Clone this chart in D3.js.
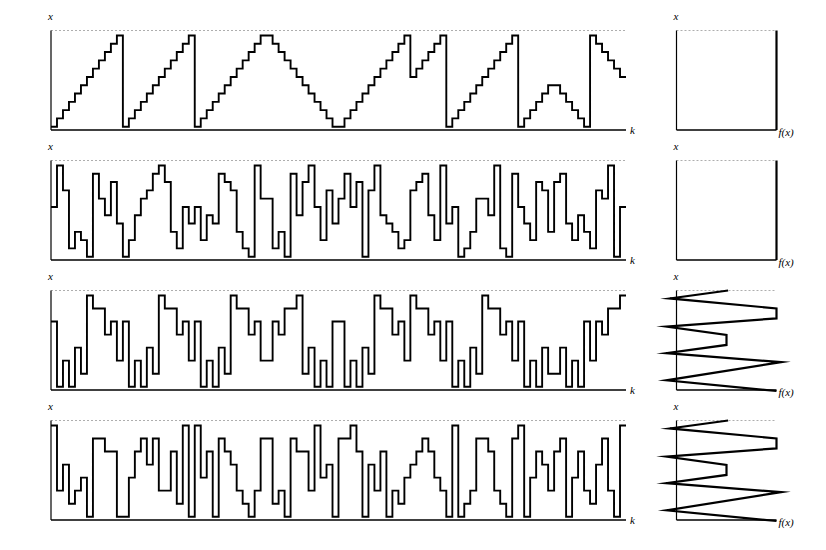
<!DOCTYPE html>
<html><head><meta charset="utf-8">
<script src="https://cdn.jsdelivr.net/npm/d3@7"></script>
<style>html,body{margin:0;padding:0;background:#fff;} svg{display:block;}</style>
</head><body>
<svg id="chart" width="826" height="550"></svg>
<script>
// ---- data ----
const steps = 96;
const levelCounts = [12, 12, 8, 8];
const series1 = [0,1,2,3,4,5,6,7,8,9,10,11, 0,1,2,3,4,5,6,7,8,9,10,11, 0,1,2,3,4,5,6,7,8,9,10,11, 11,10,9,8,7,6,5,4,3,2,1,0, 0,1,2,3,4,5,6,7,8,9,10,11, 6,7,8,9,10,11, 0,1,2,3,4,5,6,7,8,9,10,11, 0,1,2,3,4,5,5,4,3,2,1,0, 11,10,9,8,7,6];
const series2 = [6,11,8,1,3,2,0,10,7,5,9,4, 0,2,5,7,8,10,11,9,3,1,6,4, 6,2,5,4,10,9,8,3,1,0,11,7, 7,1,3,0,10,5,9,11,6,2,8,4, 7,10,6,9,0,8,11,5,4,3,1,2, 8,9,10,5,2,11,4,6,0,1,3,7, 7,5,11,1,0,10,6,4,2,9,8,3, 9,10,4,2,5,3,1,8,7,11,0,6];
const series3 = [5,0,2,0,3,1,7,6,6,4,5,2, 5,0,2,0,3,1,7,6,6,4,5,2, 5,0,2,0,3,1,7,6,6,4,5,2, 2,5,4,6,6,7,1,3,0,2,0,5, 5,0,2,0,3,1,7,6,6,4,5,2, 7,6,6,4,5,2,5,0,2,0,3,1, 7,6,6,4,5,2,5,0,2,0,3,1, 1,3,0,2,0,5,2,5,4,6,6,7];
const series4 = [7,2,4,1,2,3,0,6,6,5,5,0, 0,3,5,6,4,6,2,2,5,1,7,0, 7,3,5,0,6,5,4,2,1,0,2,6, 6,1,2,0,6,5,5,2,7,3,4,0, 6,6,7,5,0,4,2,5,0,2,1,3, 4,5,6,5,3,2,0,7,0,1,2,6, 6,5,2,1,0,6,7,0,3,5,4,2, 5,6,0,3,5,2,1,4,6,2,0,7];
// density f(x): x values and f values (polyline)
const uniformX = [0, 1];
const uniformF = [1, 1];
const zigzagX = [1.0, 0.92, 0.82, 0.72, 0.637, 0.553, 0.453, 0.37, 0.28, 0.097, -0.01];
const zigzagF = [0.516, -0.067, 1.0, 1.0, -0.1, 0.5, 0.5, -0.1, 1.05, -0.1, 1.0];
const labelX = "x", labelK = "k", labelF = "f(x)";

const rows = [
  {s: series1, n: levelCounts[0], dx: uniformX, df: uniformF},
  {s: series2, n: levelCounts[1], dx: uniformX, df: uniformF},
  {s: series3, n: levelCounts[2], dx: zigzagX, df: zigzagF},
  {s: series4, n: levelCounts[3], dx: zigzagX, df: zigzagF}
];

// ---- layout ----
const svg = d3.select("#chart");
const mainL = 51, mainR = 626, sideL = 676.5, sideR = 776.5;
const rowTop0 = 30.5, rowBot0 = 130, rowGap = 130;
const font = "'Liberation Serif', 'DejaVu Serif', serif";

const xK = d3.scaleLinear().domain([0, steps]).range([mainL, mainR]);
const xF = d3.scaleLinear().domain([0, 1]).range([sideL, sideR]);

rows.forEach((row, r) => {
  const top = rowTop0 + r*rowGap, bot = rowBot0 + r*rowGap;
  const yV = d3.scaleLinear().domain([0, 1]).range([bot, top]);
  // level -> value in [0,1]
  const lv = d3.scaleLinear().domain([0, row.n - 1]).range([0.033, 0.95]);
  const g = svg.append("g");

  // main panel frame
  g.append("line").attr("x1", mainL).attr("x2", mainR).attr("y1", yV(1)).attr("y2", yV(1))
    .attr("stroke", "#999").attr("stroke-width", 0.8).attr("stroke-dasharray", "2,2");
  g.append("line").attr("x1", mainL).attr("x2", mainL).attr("y1", yV(1)).attr("y2", yV(0))
    .attr("stroke", "#000").attr("stroke-width", 1.2);
  g.append("line").attr("x1", mainL).attr("x2", mainR).attr("y1", yV(0)).attr("y2", yV(0))
    .attr("stroke", "#000").attr("stroke-width", 1.4);
  g.append("text").attr("x", mainL - 3).attr("y", top - 11).text(labelX)
    .attr("font-family", font).attr("font-style", "italic").attr("font-size", 11);
  g.append("text").attr("x", mainR + 4).attr("y", bot + 4).text(labelK)
    .attr("font-family", font).attr("font-style", "italic").attr("font-size", 11);

  // step series
  const pts = row.s.map((v, k) => [k, v]);
  pts.push([steps, row.s[row.s.length - 1]]);
  const line = d3.line().x(d => xK(d[0])).y(d => yV(lv(d[1]))).curve(d3.curveStepAfter);
  g.append("path").attr("d", line(pts)).attr("fill", "none").attr("stroke", "#000")
    .attr("stroke-width", 1.9).attr("stroke-linejoin", "miter");

  // side panel
  g.append("line").attr("x1", sideL).attr("x2", sideR).attr("y1", yV(1)).attr("y2", yV(1))
    .attr("stroke", "#999").attr("stroke-width", 0.8).attr("stroke-dasharray", "2,2");
  g.append("line").attr("x1", sideL).attr("x2", sideL).attr("y1", yV(1)).attr("y2", yV(0))
    .attr("stroke", "#000").attr("stroke-width", 1.2);
  g.append("line").attr("x1", sideL).attr("x2", sideR).attr("y1", yV(0)).attr("y2", yV(0))
    .attr("stroke", "#000").attr("stroke-width", 1.4);
  g.append("text").attr("x", sideL - 3).attr("y", top - 11).text(labelX)
    .attr("font-family", font).attr("font-style", "italic").attr("font-size", 11);
  g.append("text").attr("x", sideR + 2).attr("y", bot + 6).text(labelF)
    .attr("font-family", font).attr("font-style", "italic").attr("font-size", 11);

  const dline = d3.line().x(d => xF(d[1])).y(d => yV(d[0]));
  g.append("path").attr("d", dline(row.dx.map((x, i) => [x, row.df[i]])))
    .attr("fill", "none").attr("stroke", "#000").attr("stroke-width", 2.2)
    .attr("stroke-linejoin", "miter").attr("stroke-miterlimit", 10);
});
</script>
</body></html>
